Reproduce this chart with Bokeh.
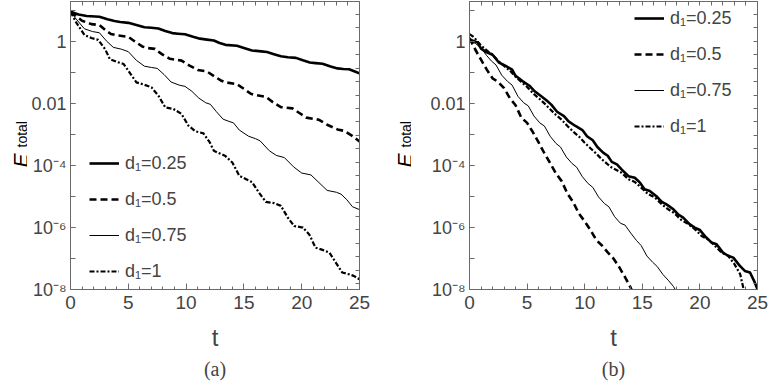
import math
from bokeh.plotting import figure
from bokeh.models import (Range1d, LinearAxis, LogAxis, FixedTicker, CustomJSTickFormatter,
                          Legend, LegendItem, Title)
from bokeh.core.properties import value
from bokeh.layouts import row
from bokeh.embed import file_html
from bokeh.resources import INLINE

# ---------------- data (t, log10 E_total) ----------------
# panel (a)
t_a_025 = [0.0, 0.7, 1.4, 2.5, 3.2, 3.8, 4.3, 5.0, 5.7, 6.4, 7.0, 7.6, 8.2, 8.8, 9.3, 9.9, 10.6, 11.2,
           11.8, 12.4, 12.9, 13.4, 14.4, 15.0, 15.7, 16.5, 17.0, 17.6, 18.2, 18.8, 19.5, 20.1, 20.7,
           21.2, 21.8, 22.5, 23.1, 23.6, 24.1, 24.6, 25.0]
lg_a_025 = [0.97, 0.88, 0.83, 0.81, 0.73, 0.67, 0.64, 0.61, 0.54, 0.47, 0.45, 0.43, 0.35, 0.28, 0.26,
            0.24, 0.16, 0.10, 0.07, 0.04, -0.04, -0.10, -0.13, -0.20, -0.28, -0.31, -0.33, -0.40,
            -0.47, -0.50, -0.52, -0.60, -0.67, -0.69, -0.71, -0.80, -0.86, -0.88, -0.89, -0.96, -1.02]

t_a_05 = [0.0, 0.5, 1.0, 1.8, 2.5, 3.0, 3.5, 4.0, 5.0, 5.6, 6.2, 6.6, 7.3, 7.9, 8.6, 9.6, 10.3, 11.0,
          11.8, 12.5, 13.0, 13.4, 14.4, 15.0, 15.6, 16.0, 16.9, 17.5, 18.2, 19.2, 19.8, 20.4, 21.5,
          22.2, 23.1, 23.7, 24.3, 25.0]
lg_a_05 = [0.97, 0.82, 0.68, 0.57, 0.54, 0.38, 0.25, 0.21, 0.16, 0.0, -0.15, -0.20, -0.23, -0.40,
           -0.55, -0.61, -0.77, -0.91, -0.96, -1.13, -1.25, -1.31, -1.37, -1.52, -1.68, -1.72, -1.78,
           -1.95, -2.11, -2.15, -2.30, -2.45, -2.52, -2.68, -2.83, -2.88, -3.02, -3.22]

t_a_075 = [0.0, 0.5, 1.2, 1.9, 2.5, 3.1, 3.7, 4.4, 5.0, 5.7, 6.4, 7.0, 7.5, 8.1, 8.7, 9.4, 9.9, 10.5,
           11.1, 11.7, 12.1, 12.6, 13.2, 13.7, 14.1, 14.6, 15.4, 16.0, 16.4, 17.2, 17.8, 18.5, 19.3,
           20.0, 20.8, 21.5, 22.2, 23.0, 23.4, 23.9, 24.4, 25.0]
lg_a_075 = [0.97, 0.73, 0.42, 0.33, 0.29, 0.03, -0.18, -0.24, -0.32, -0.60, -0.79, -0.83, -0.86,
            -1.06, -1.30, -1.40, -1.44, -1.60, -1.82, -1.97, -2.02, -2.25, -2.50, -2.57, -2.62,
            -2.85, -3.05, -3.13, -3.20, -3.52, -3.67, -3.74, -4.04, -4.24, -4.30, -4.55, -4.80,
            -4.86, -4.92, -5.10, -5.33, -5.42]

t_a_1 = [0.0, 0.5, 1.2, 1.8, 2.4, 3.0, 3.4, 4.0, 4.6, 5.1, 5.7, 6.4, 7.0, 7.6, 8.2, 8.9, 9.6, 10.2,
         10.8, 11.5, 12.05, 12.4, 13.4, 14.0, 14.6, 15.2, 15.7, 16.3, 16.9, 17.6, 18.2, 18.8, 19.35,
         20.1, 20.65, 21.2, 21.8, 22.4, 22.95, 23.5, 24.1, 24.5, 25.0]
lg_a_1 = [0.97, 0.62, 0.22, 0.12, 0.06, -0.24, -0.56, -0.65, -0.72, -0.99, -1.31, -1.39, -1.47,
          -1.74, -2.12, -2.17, -2.33, -2.71, -2.89, -2.96, -3.25, -3.52, -3.69, -3.90, -4.33, -4.44,
          -4.53, -4.87, -5.17, -5.21, -5.30, -5.68, -5.95, -6.00, -6.22, -6.65, -6.72, -6.81, -7.13,
          -7.45, -7.51, -7.56, -7.67]

# panel (b)
t_b_025 = [0.0, 0.7, 1.0, 1.5, 2.0, 2.55, 3.1, 3.7, 4.0, 4.6, 5.2, 5.6, 6.2, 6.7, 7.1, 7.6, 8.2, 8.6,
           9.2, 9.8, 10.2, 10.7, 11.1, 11.6, 12.0, 12.35, 12.8, 13.2, 13.8, 14.35, 14.8, 15.2, 15.65,
           16.2, 16.7, 17.1, 17.7, 18.1, 18.55, 19.1, 19.55, 20.0, 20.55, 21.0, 21.45, 22.0, 22.45,
           22.9, 23.45, 23.9, 24.35, 24.7, 25.0]
lg_b_025 = [0.07, -0.02, -0.22, -0.34, -0.42, -0.67, -0.77, -0.90, -1.10, -1.27, -1.42, -1.58,
            -1.75, -1.90, -2.03, -2.26, -2.40, -2.57, -2.72, -2.85, -3.05, -3.18, -3.40, -3.58,
            -3.68, -3.88, -3.96, -4.12, -4.34, -4.39, -4.55, -4.76, -4.82, -4.98, -5.17, -5.25,
            -5.41, -5.57, -5.68, -5.89, -6.00, -6.08, -6.32, -6.48, -6.54, -6.81, -6.91, -6.97,
            -7.23, -7.40, -7.45, -7.72, -7.99]

t_b_05 = [0.0, 0.5, 1.0, 1.5, 2.0, 2.5, 3.0, 3.5, 4.0, 4.5, 5.0, 5.5, 6.0, 6.5, 7.0, 7.5, 8.0, 8.5,
          9.0, 9.5, 10.0, 10.5, 11.0, 11.5, 12.0, 12.5, 13.0, 13.5, 14.0, 14.3]
lg_b_05 = [0.12, -0.25, -0.58, -0.90, -1.18, -1.30, -1.50, -1.82, -2.05, -2.45, -2.62, -2.92, -3.25,
           -3.60, -3.92, -4.25, -4.50, -4.90, -5.18, -5.55, -5.80, -6.08, -6.40, -6.58, -6.80,
           -7.00, -7.28, -7.60, -7.95, -8.20]

t_b_075 = [0.0, 0.5, 1.0, 1.5, 1.9, 2.3, 2.8, 3.3, 3.7, 4.2, 4.7, 5.1, 5.6, 6.1, 6.5, 7.0, 7.5, 7.9,
           8.4, 8.9, 9.3, 9.8, 10.3, 10.7, 11.2, 11.7, 12.1, 12.6, 13.1, 13.5, 14.0, 14.5, 14.9,
           15.4, 15.9, 16.3, 16.8, 17.3, 17.7, 18.2]
lg_b_075 = [0.03, -0.05, -0.20, -0.45, -0.62, -0.75, -1.08, -1.28, -1.40, -1.76, -1.97, -2.07,
            -2.40, -2.62, -2.72, -3.05, -3.28, -3.40, -3.72, -3.93, -4.05, -4.36, -4.58, -4.70,
            -5.01, -5.22, -5.33, -5.65, -5.86, -5.92, -6.18, -6.42, -6.58, -6.92, -7.12, -7.26,
            -7.52, -7.72, -7.90, -8.22]

t_b_1 = [0.0, 0.4, 1.0, 1.5, 2.0, 2.5, 3.0, 3.5, 4.0, 4.5, 5.0, 5.5, 6.0, 6.5, 7.0, 7.5, 8.0, 8.5,
         9.0, 9.5, 10.0, 10.5, 11.0, 11.5, 12.0, 12.33, 13.2, 13.8, 14.35, 14.9, 15.5, 16.1, 16.7,
         17.25, 17.8, 18.4, 19.0, 19.55, 20.15, 20.7, 21.3, 21.9, 22.45, 23.0, 23.5, 23.8, 24.0]
lg_b_1 = [0.25, 0.14, -0.12, -0.28, -0.42, -0.62, -0.78, -0.93, -1.13, -1.30, -1.46, -1.66, -1.82,
          -1.99, -2.18, -2.36, -2.52, -2.72, -2.90, -3.06, -3.26, -3.44, -3.61, -3.80, -3.96, -4.06,
          -4.23, -4.44, -4.53, -4.71, -4.92, -5.03, -5.25, -5.41, -5.54, -5.76, -5.89, -6.05, -6.27,
          -6.38, -6.59, -6.81, -6.91, -7.18, -7.51, -8.00, -8.20]

legend_labels = ["d\u2081=0.25", "d\u2081=0.5", "d\u2081=0.75", "d\u2081=1"]
xtick_values = [0, 5, 10, 15, 20, 25]
ytick_values = [1e-8, 1e-6, 1e-4, 1e-2, 1.0]
ytick_labels = ["10\u207b\u2078", "10\u207b\u2076", "10\u207b\u2074", "0.01", "1"]
panel_labels = ["(a)", "(b)"]
y_title_main = "E"
y_title_sub = "total"

FONT = "Liberation Sans"
FRAME = "#6a6a6a"
H = 382
TOP = 1
BOTTOM = 93
LABEL_W = 27

STYLES = [dict(line_width=2.6, line_dash="solid"),
          dict(line_width=2.6, line_dash="7 4"),
          dict(line_width=1.0, line_dash="solid"),
          dict(line_width=2.2, line_dash="5 2 2 2")]


def make_ylabel():
    # narrow strip holding the rotated y-axis title E_total (frame pixel coordinates)
    fh = H - TOP - BOTTOM
    q = figure(width=LABEL_W, height=H, x_range=Range1d(0, LABEL_W), y_range=Range1d(0, fh),
               x_axis_location=None, y_axis_location=None, output_backend="svg",
               toolbar_location=None, min_border=0, min_border_left=0, min_border_right=0,
               min_border_top=TOP, min_border_bottom=BOTTOM, outline_line_color=None)
    q.grid.visible = False
    q.background_fill_color = "white"
    q.border_fill_color = "white"
    q.text(x=[20], y=[122], text=[y_title_main], angle=math.pi / 2,
           text_font=value(FONT), text_font_style="italic", text_font_size="21px",
           text_align="left", text_baseline="alphabetic", text_color="#000000")
    q.text(x=[21.5], y=[142], text=[y_title_sub], angle=math.pi / 2,
           text_font=value(FONT), text_font_style="normal", text_font_size="14px",
           text_align="left", text_baseline="alphabetic", text_color="#000000")
    return q


def make_panel(curves, bl, br, frame_w, legend_loc, plabel):
    p = figure(width=bl + frame_w + br, height=H,
               x_range=Range1d(0, 25), y_range=Range1d(1e-8, 10 ** 1.3),
               y_axis_type="log", output_backend="svg", toolbar_location=None,
               min_border_left=bl, min_border_right=br, min_border_top=TOP,
               min_border_bottom=BOTTOM)
    p.grid.visible = False
    p.outline_line_color = FRAME
    p.outline_line_width = 1
    p.background_fill_color = "white"
    p.border_fill_color = "white"

    items = []
    for (t, lg), st, lab in zip(curves, STYLES, legend_labels):
        r = p.line(t, [10.0 ** v for v in lg], line_color="black", line_join="round", **st)
        items.append(LegendItem(label=lab, renderers=[r]))

    # bottom axis
    xa = p.xaxis[0]
    xa.ticker = FixedTicker(ticks=xtick_values, minor_ticks=list(range(0, 26)))
    xa.axis_line_color = FRAME
    xa.major_tick_line_color = FRAME
    xa.minor_tick_line_color = FRAME
    xa.major_tick_in = 6
    xa.major_tick_out = 0
    xa.minor_tick_in = 3
    xa.minor_tick_out = 0
    xa.major_label_text_font = FONT
    xa.major_label_text_font_size = "19px"
    xa.major_label_standoff = 6
    xa.axis_label = "t"
    xa.axis_label_text_font = FONT
    xa.axis_label_text_font_size = "24px"
    xa.axis_label_text_font_style = "normal"
    xa.axis_label_standoff = 12

    # left axis
    ya = p.yaxis[0]
    ya.ticker = FixedTicker(ticks=ytick_values, minor_ticks=[10.0 ** k for k in range(-8, 2)])
    ya.formatter = CustomJSTickFormatter(args=dict(vals=ytick_values, labels=ytick_labels), code="""
        const e = Math.round(Math.log10(tick));
        for (let i = 0; i < vals.length; i++) {
            if (Math.round(Math.log10(vals[i])) == e) return labels[i];
        }
        return "";
    """)
    ya.axis_line_color = FRAME
    ya.major_tick_line_color = FRAME
    ya.minor_tick_line_color = FRAME
    ya.major_tick_in = 5
    ya.major_tick_out = 0
    ya.minor_tick_in = 5
    ya.minor_tick_out = 0
    ya.major_label_text_font = FONT
    ya.major_label_text_font_size = "18px"
    ya.major_label_standoff = 4

    # top axis (ticks only)
    top = LinearAxis(ticker=FixedTicker(ticks=list(range(0, 26))), axis_line_color=FRAME,
                     major_tick_line_color=FRAME, major_tick_in=4, major_tick_out=0,
                     major_label_text_font_size="0px", major_label_text_color=None,
                     major_label_standoff=0)
    p.add_layout(top, "above")

    # right axis (ticks only)
    rticks = [10 ** (0.89 - 0.435 * k) for k in range(21)]
    right = LogAxis(ticker=FixedTicker(ticks=rticks), axis_line_color=FRAME,
                    major_tick_line_color=FRAME, major_tick_in=4, major_tick_out=0,
                    minor_tick_line_color=None,
                    major_label_text_font_size="0px", major_label_text_color=None,
                    major_label_standoff=0)
    p.add_layout(right, "right")

    legend = Legend(items=items, location=legend_loc, orientation="vertical",
                    background_fill_alpha=0, border_line_color=None, padding=0, margin=0,
                    spacing=14, glyph_width=30, glyph_height=22, label_height=22,
                    label_standoff=6, label_text_font=FONT, label_text_font_size="18px")
    p.add_layout(legend)

    title = Title(text=plabel, align="center", text_font="Liberation Serif",
                  text_font_size="20px", text_font_style="normal", standoff=4)
    p.add_layout(title, "below")
    return p


curves_a = [(t_a_025, lg_a_025), (t_a_05, lg_a_05), (t_a_075, lg_a_075), (t_a_1, lg_a_1)]
curves_b = [(t_b_025, lg_b_025), (t_b_05, lg_b_05), (t_b_075, lg_b_075), (t_b_1, lg_b_1)]

l1 = make_ylabel()
p1 = make_panel(curves_a, 70 - LABEL_W, 25, 289, (19, 7), panel_labels[0])
l2 = make_ylabel()
p2 = make_panel(curves_b, 85 - LABEL_W, 11, 288, (165, 152), panel_labels[1])

layout = row(l1, p1, l2, p2)
open("out.html", "w").write(file_html(layout, INLINE))
